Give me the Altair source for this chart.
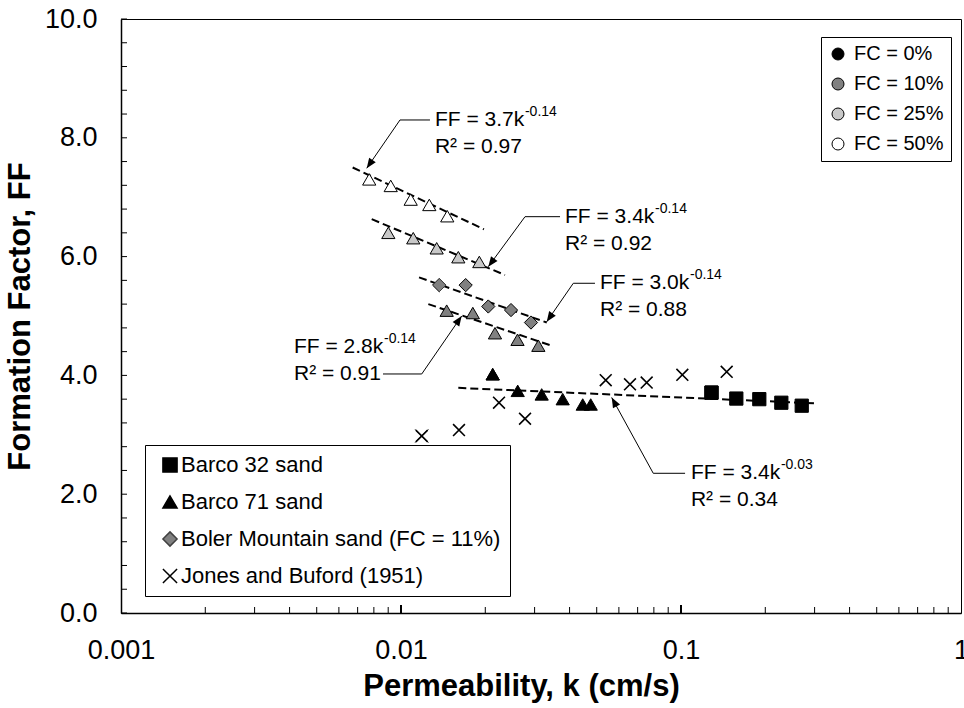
import altair as alt
import pandas as pd

FONT = "Liberation Sans"

# ---------------- data ----------------
# Barco 32 sand (FC = 0 %)
b32_k = [0.1285, 0.1576, 0.1904, 0.2282, 0.2699]
b32_ff = [3.71, 3.61, 3.60, 3.54, 3.49]

# Barco 71 sand at four fines contents
b71_0_k = [0.02126, 0.02611, 0.03180, 0.03780, 0.04457, 0.04759]
b71_0_ff = [4.02, 3.74, 3.68, 3.60, 3.51, 3.51]
b71_10_k = [0.01456, 0.01805, 0.02166, 0.02607, 0.03094]
b71_10_ff = [5.09, 5.05, 4.71, 4.60, 4.50]
b71_25_k = [0.00901, 0.01106, 0.01341, 0.01602, 0.01904]
b71_25_ff = [6.40, 6.31, 6.14, 5.99, 5.91]
b71_50_k = [0.00770, 0.00919, 0.01083, 0.01262, 0.01463]
b71_50_ff = [7.30, 7.19, 6.96, 6.87, 6.68]

# Boler Mountain sand (FC = 11 %)
boler_k = [0.01370, 0.01702, 0.02050, 0.02471, 0.02912]
boler_ff = [5.52, 5.52, 5.16, 5.10, 4.89]

# Jones and Buford (1951)
jones_k = [0.01186, 0.01611, 0.02239, 0.02773, 0.05385, 0.06574, 0.07541, 0.1011, 0.1456]
jones_ff = [2.98, 3.08, 3.54, 3.27, 3.92, 3.85, 3.88, 4.01, 4.06]

# dashed trend lines (start / end)
trend_id = ["t50", "t50", "t25", "t25", "tbo", "tbo", "t10", "t10", "t0", "t0"]
trend_k = [0.00672, 0.01978, 0.00786, 0.02351, 0.01160, 0.03316, 0.01252, 0.0350, 0.01602, 0.3011]
trend_ff = [7.50, 6.46, 6.63, 5.69, 5.65, 4.89, 5.20, 4.49, 3.79, 3.53]

# leader lines: tip, elbow, end
leader_id = [1, 1, 1, 2, 2, 2, 3, 3, 3, 4, 4, 4, 5, 5, 5]
leader_ord = [0, 1, 2] * 5
leader_k = [0.007544, 0.009918, 0.01269,
            0.02050, 0.02773, 0.03698,
            0.03315, 0.04124, 0.04929,
            0.01647, 0.01186, 0.008625,
            0.05655, 0.07960, 0.1034]
leader_ff = [7.487, 8.30, 8.30,
             5.830, 6.672, 6.672,
             4.904, 5.551, 5.551,
             5.000, 4.024, 4.024,
             3.628, 2.352, 2.352]
arrow_angle = [214.6, 216.3, 214.7, 34.6, 331.2]

# annotation texts
eq_text = ["FF = 3.7k", "FF = 3.4k", "FF = 3.0k", "FF = 2.8k", "FF = 3.4k"]
eq_exp = ["-0.14", "-0.14", "-0.14", "-0.14", "-0.03"]
r2_text = ["R² = 0.97", "R² = 0.92", "R² = 0.88", "R² = 0.91", "R² = 0.34"]
ann_k = [0.01322, 0.03853, 0.05136, 0.004148, 0.1085]
eq_ff = [8.30, 6.672, 5.551, 4.478, 2.352]
r2_ff = [7.845, 6.217, 5.096, 4.024, 1.897]

# axis ticks
y_labels = [0, 2, 4, 6, 8, 10]
y_minor = [round(i * 0.4, 1) for i in range(26)]
x_labels = [0.001, 0.01, 0.1, 1]
x_minor = [m * 10.0 ** e for e in (-3, -2, -1) for m in range(2, 10)]
x_major_inner = [0.01, 0.1]

series_names = ["Barco 32 sand", "Barco 71 sand",
                "Boler Mountain sand (FC = 11%)", "Jones and Buford (1951)"]
series_fill = ["#000000", "#000000", "#808080", "#000000"]
series_stroke = ["#000000", "#000000", "#404040", "#000000"]
fc_names = ["FC = 0%", "FC = 10%", "FC = 25%", "FC = 50%", "FC = 11%"]
fc_colors = ["#000000", "#808080", "#c8c8c8", "#ffffff", "#808080"]
X_PATH = "M-1,-1L1,1M-1,1L1,-1"
shape_range = ["square", "triangle-up", "diamond", X_PATH]
ARROW_PATH = "M0,0L-0.5,1.25L0.5,1.25Z"

# ---------------- tables ----------------
rows = []
for k, f in zip(b32_k, b32_ff):
    rows.append((k, f, series_names[0], "FC = 0%"))
for ks, fs, fc in [(b71_0_k, b71_0_ff, "FC = 0%"), (b71_10_k, b71_10_ff, "FC = 10%"),
                   (b71_25_k, b71_25_ff, "FC = 25%"), (b71_50_k, b71_50_ff, "FC = 50%")]:
    for k, f in zip(ks, fs):
        rows.append((k, f, series_names[1], fc))
for k, f in zip(boler_k, boler_ff):
    rows.append((k, f, series_names[2], "FC = 11%"))
pts = pd.DataFrame(rows, columns=["k", "FF", "series", "fc"])
jones = pd.DataFrame({"k": jones_k, "FF": jones_ff, "series": series_names[3]})
# one real point of each series, redrawn on top of itself, carries the series legend
legend_pts = pd.DataFrame({
    "k": [b32_k[0], b71_0_k[0], boler_k[0], jones_k[0]],
    "FF": [b32_ff[0], b71_0_ff[0], boler_ff[0], jones_ff[0]],
    "series": series_names,
})
trend = pd.DataFrame({"k": trend_k, "FF": trend_ff, "id": trend_id})
leader = pd.DataFrame({"k": leader_k, "FF": leader_ff, "id": leader_id, "o": leader_ord})
tips = leader[leader["o"] == 0].copy()
tips["angle"] = arrow_angle
ann = pd.DataFrame({"k": ann_k, "eq": eq_text, "exp": eq_exp, "r2": r2_text,
                    "eqff": eq_ff, "r2ff": r2_ff})

# ---------------- scales / axes ----------------
xs = alt.Scale(type="log", domain=[0.001, 1])
ys = alt.Scale(domain=[0, 10], nice=False)
x_axis = alt.Axis(values=x_labels, format="~g", ticks=False, grid=False,
                  title="Permeability, k (cm/s)", labelPadding=24, titlePadding=8,
                  titleX=400, labelFlush=False, labelOverlap=False)
y_axis = alt.Axis(values=y_labels, format=".1f", ticks=False, grid=False,
                  title="Formation Factor, FF", labelPadding=24, titlePadding=8)


def X(f="k"):
    return alt.X(f"{f}:Q", scale=xs, axis=x_axis)


def Y(f="FF"):
    return alt.Y(f"{f}:Q", scale=ys, axis=y_axis)


series_legend = alt.Legend(title=None, orient="none", legendX=24, legendY=426,
                           strokeColor="black", fillColor="white", padding=9,
                           rowPadding=15, labelFontSize=22, labelFont=FONT,
                           labelColor="black", labelLimit=600, symbolSize=200,
                           symbolStrokeWidth=1.5,
                           symbolOffset=5, labelOffset=0, cornerRadius=0)

fc_legend = alt.Legend(title=None, orient="none", legendX=700, legendY=18,
                       values=fc_names[:4], strokeColor="black",
                       fillColor="white", padding=7, rowPadding=10,
                       labelFontSize=20, labelFont=FONT, labelColor="black",
                       symbolType="circle", symbolSize=144,
                       symbolStrokeColor="black", symbolStrokeWidth=1,
                       labelOffset=6, cornerRadius=0)

# ---------------- layers ----------------
ytick = alt.Chart(pd.DataFrame({"v": y_minor})).mark_rule(color="black", strokeWidth=1).encode(
    y=Y("v"), x=alt.value(0), x2=alt.value(6))
xtick = alt.Chart(pd.DataFrame({"v": x_minor})).mark_rule(color="black", strokeWidth=1).encode(
    x=X("v"), y=alt.value(594), y2=alt.value(588))
xtick_major = alt.Chart(pd.DataFrame({"v": x_major_inner})).mark_rule(color="black", strokeWidth=2).encode(
    x=X("v"), y=alt.value(594), y2=alt.value(586))

trend_layer = alt.Chart(trend).mark_line(color="black", strokeWidth=2, strokeDash=[8, 4]).encode(
    x=X(), y=Y(), detail="id:N")

leader_layer = alt.Chart(leader).mark_line(color="black", strokeWidth=1).encode(
    x=X(), y=Y(), detail="id:N", order="o:Q")
arrow_layer = alt.Chart(tips).mark_point(shape=ARROW_PATH, filled=True, color="black",
                                         size=260, opacity=1).encode(
    x=X(), y=Y(), angle=alt.Angle("angle:Q", scale=None))

point_layer = alt.Chart(pts).mark_point(filled=True, stroke="black", strokeWidth=1,
                                        size=175, opacity=1).encode(
    x=X(), y=Y(),
    shape=alt.Shape("series:N", scale=alt.Scale(domain=series_names, range=shape_range),
                    legend=None),
    fill=alt.Fill("fc:N", scale=alt.Scale(domain=fc_names, range=fc_colors), legend=fc_legend))

jones_layer = alt.Chart(jones).mark_point(shape=X_PATH, filled=False, color="black",
                                          strokeWidth=1.6, size=140, opacity=1).encode(
    x=X(), y=Y())

legend_layer = alt.Chart(legend_pts).mark_point(filled=True, strokeWidth=1,
                                                size=175, opacity=1).encode(
    x=X(), y=Y(),
    shape=alt.Shape("series:N", scale=alt.Scale(domain=series_names, range=shape_range),
                    legend=series_legend),
    fill=alt.Fill("series:N", scale=alt.Scale(domain=series_names, range=series_fill),
                  legend=series_legend),
    stroke=alt.Stroke("series:N", scale=alt.Scale(domain=series_names, range=series_stroke),
                      legend=series_legend))

eq_layer = alt.Chart(ann).mark_text(align="left", baseline="middle", font=FONT,
                                    fontSize=21, color="black").encode(
    x=X(), y=Y("eqff"), text="eq:N")
exp_layer = alt.Chart(ann).mark_text(align="left", baseline="middle", font=FONT,
                                     fontSize=14, color="black", dx=90, dy=-8).encode(
    x=X(), y=Y("eqff"), text="exp:N")
r2_layer = alt.Chart(ann).mark_text(align="left", baseline="middle", font=FONT,
                                    fontSize=21, color="black").encode(
    x=X(), y=Y("r2ff"), text="r2:N")

chart = alt.layer(
    ytick, xtick, xtick_major, trend_layer, leader_layer, arrow_layer,
    point_layer, jones_layer, legend_layer, eq_layer, exp_layer, r2_layer
).resolve_scale(shape="independent", fill="independent", stroke="independent").properties(
    width=840, height=594,
    padding={"left": 121, "top": 19, "right": 3, "bottom": 95},
    autosize=alt.AutoSizeParams(type="none"),
    background="white",
).configure(font=FONT).configure_view(
    stroke="black", strokeWidth=1
).configure_axis(
    labelFont=FONT, labelFontSize=27, labelColor="black",
    titleFont=FONT, titleFontSize=31, titleFontWeight="bold", titleColor="black",
    domainColor="black", domainWidth=1.5,
)

chart.save("out.html", embed_options={"renderer": "svg", "actions": False})
